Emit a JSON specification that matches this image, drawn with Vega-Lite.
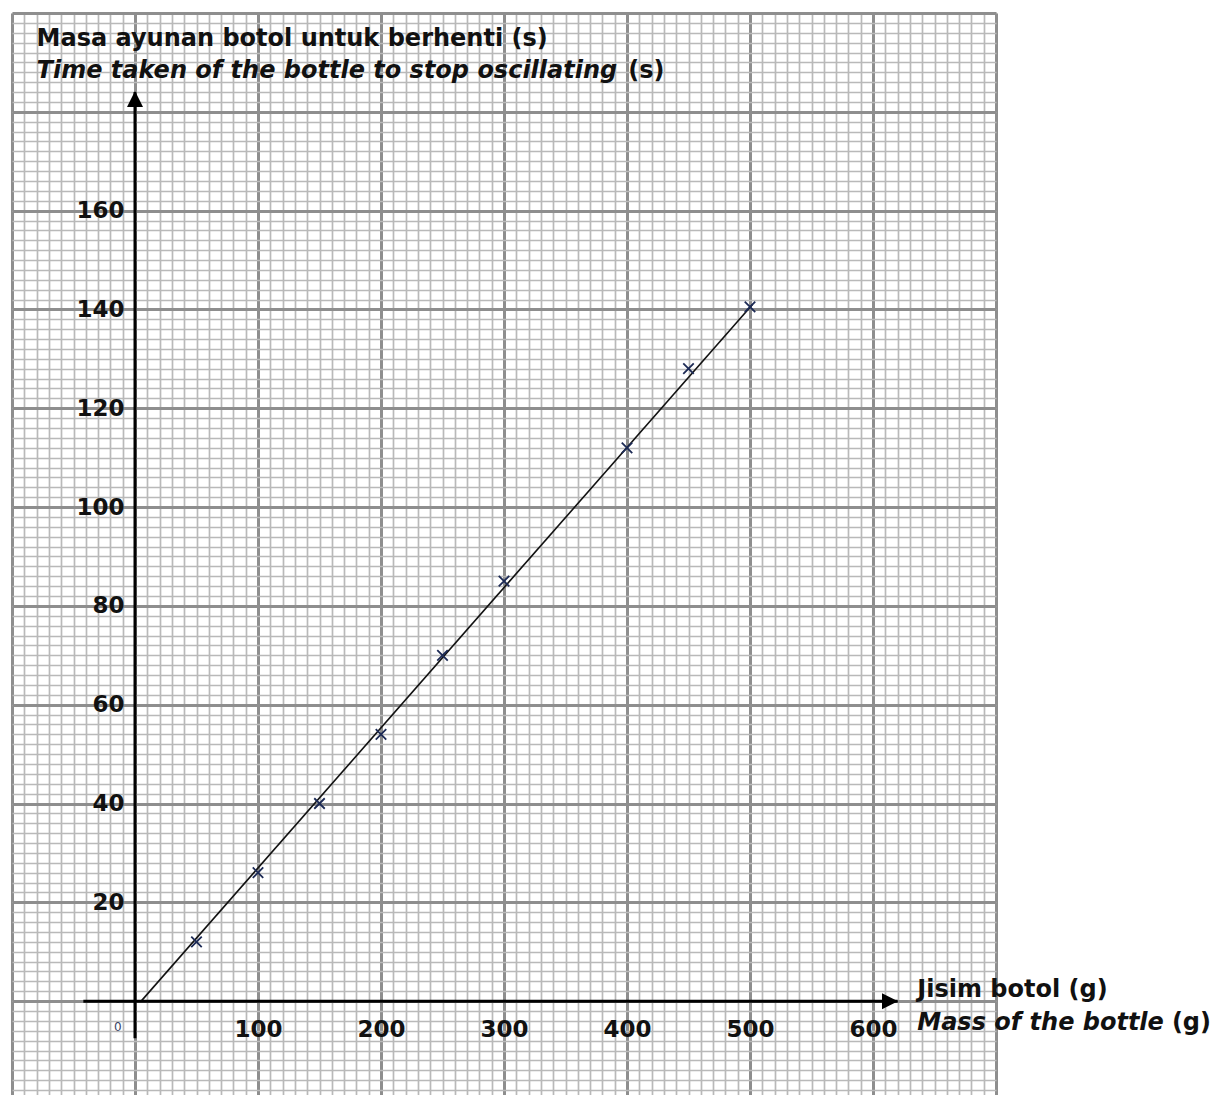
{
  "$schema": "https://vega.github.io/schema/vega-lite/v6.json",
  "width": 984,
  "height": 1082,
  "autosize": {"type": "none"},
  "padding": {"left": 12, "top": 13, "right": 223, "bottom": 0},
  "background": "white",
  "config": {"view": {"stroke": null}, "font": "DejaVu Sans"},
  "datasets": {
    "obs": [
      {"mass": 50, "time": 12},
      {"mass": 100, "time": 26},
      {"mass": 150, "time": 40},
      {"mass": 200, "time": 54},
      {"mass": 250, "time": 70},
      {"mass": 300, "time": 85},
      {"mass": 400, "time": 112},
      {"mass": 450, "time": 128},
      {"mass": 500, "time": 140.5}
    ],
    "fit": [
      {"mass": 5, "time": 0},
      {"mass": 502, "time": 141}
    ],
    "one": [{}]
  },
  "resolve": {"axis": {"x": "independent", "y": "independent"}},
  "layer": [
    {
      "data": {"name": "fit"},
      "mark": {"type": "line", "color": "#111111", "strokeWidth": 1.6},
      "encoding": {
        "x": {"field": "mass", "type": "quantitative",
          "scale": {"domain": [-100, 700], "nice": false, "zero": false},
          "axis": {"orient": "bottom", "title": null, "labels": false, "ticks": false, "domain": false,
            "grid": true, "gridColor": "#b9b9b9", "gridWidth": 1.7, "gridOpacity": 1,
            "values": [-100,-90,-80,-70,-60,-50,-40,-30,-20,-10,0,10,20,30,40,50,60,70,80,90,100,110,120,130,140,150,160,170,180,190,200,210,220,230,240,250,260,270,280,290,300,310,320,330,340,350,360,370,380,390,400,410,420,430,440,450,460,470,480,490,500,510,520,530,540,550,560,570,580,590,600,610,620,630,640,650,660,670,680,690,700]}},
        "y": {"field": "time", "type": "quantitative",
          "scale": {"domain": [-19, 200], "nice": false, "zero": false},
          "axis": {"orient": "left", "title": null, "labels": false, "ticks": false, "domain": false,
            "grid": true, "gridColor": "#b9b9b9", "gridWidth": 1.7, "gridOpacity": 1,
            "values": [-18,-16,-14,-12,-10,-8,-6,-4,-2,0,2,4,6,8,10,12,14,16,18,20,22,24,26,28,30,32,34,36,38,40,42,44,46,48,50,52,54,56,58,60,62,64,66,68,70,72,74,76,78,80,82,84,86,88,90,92,94,96,98,100,102,104,106,108,110,112,114,116,118,120,122,124,126,128,130,132,134,136,138,140,142,144,146,148,150,152,154,156,158,160,162,164,166,168,170,172,174,176,178,180,182,184,186,188,190,192,194,196,198,200]}}
      }
    },
    {
      "data": {"name": "obs"},
      "mark": {"type": "point", "shape": "M-1,-1L1,1M1,-1L-1,1", "filled": false, "stroke": "#1c2a55", "strokeWidth": 1.8, "size": 110, "opacity": 1},
      "encoding": {
        "x": {"field": "mass", "type": "quantitative",
          "scale": {"domain": [-100, 700], "nice": false, "zero": false},
          "axis": {"orient": "bottom", "title": null, "labels": false, "ticks": false, "domain": false,
            "grid": true, "gridColor": "#8e8e8e", "gridWidth": 3, "gridOpacity": 1,
            "values": [-100, 0, 100, 200, 300, 400, 500, 600, 700]}},
        "y": {"field": "time", "type": "quantitative",
          "scale": {"domain": [-19, 200], "nice": false, "zero": false},
          "axis": {"orient": "left", "title": null, "labels": false, "ticks": false, "domain": false,
            "grid": true, "gridColor": "#8e8e8e", "gridWidth": 3, "gridOpacity": 1,
            "values": [0, 20, 40, 60, 80, 100, 120, 140, 160, 180, 200]}}
      }
    },
    {
      "data": {"name": "one"},
      "mark": {"type": "rule", "color": "black", "strokeWidth": 3},
      "encoding": {
        "x": {"datum": -42, "type": "quantitative",
          "scale": {"domain": [-100, 700], "nice": false, "zero": false},
          "axis": {"orient": "bottom", "offset": -94, "title": null, "ticks": false, "domain": false, "grid": false,
            "labelPadding": 17, "labelFontSize": 23, "labelFontWeight": "bold", "labelFont": "DejaVu Sans",
            "labelColor": "#111111", "labelOverlap": false, "labelFlush": false,
            "values": [100, 200, 300, 400, 500, 600]}},
        "x2": {"datum": 620},
        "y": {"datum": 0, "type": "quantitative",
          "scale": {"domain": [-19, 200], "nice": false, "zero": false},
          "axis": {"orient": "left", "offset": -123, "title": null, "ticks": false, "domain": false, "grid": false,
            "labelPadding": 11, "labelFontSize": 23, "labelFontWeight": "bold", "labelFont": "DejaVu Sans",
            "labelColor": "#111111", "labelOverlap": false, "labelFlush": false,
            "values": [20, 40, 60, 80, 100, 120, 140, 160]}}
      }
    },
    {
      "data": {"name": "one"},
      "mark": {"type": "rule", "color": "black", "strokeWidth": 3},
      "encoding": {
        "x": {"datum": 0, "type": "quantitative", "axis": null},
        "y": {"datum": -7.5, "type": "quantitative", "axis": null},
        "y2": {"datum": 184}
      }
    },
    {
      "data": {"name": "one"},
      "mark": {"type": "point", "shape": "M0,0L-0.8,1.6L0.8,1.6Z", "filled": true, "color": "black", "size": 400, "opacity": 1, "strokeWidth": 0},
      "encoding": {
        "x": {"datum": 0, "type": "quantitative", "axis": null},
        "y": {"datum": 184.2, "type": "quantitative", "axis": null}
      }
    },
    {
      "data": {"name": "one"},
      "mark": {"type": "point", "shape": "M0,0L-1.6,-0.8L-1.6,0.8Z", "filled": true, "color": "black", "size": 400, "opacity": 1, "strokeWidth": 0},
      "encoding": {
        "x": {"datum": 620.3, "type": "quantitative", "axis": null},
        "y": {"datum": 0, "type": "quantitative", "axis": null}
      }
    },
    {
      "data": {"name": "one"},
      "mark": {"type": "text", "text": "Masa ayunan botol untuk berhenti (s)", "align": "left", "baseline": "alphabetic",
        "font": "DejaVu Sans", "fontSize": 24, "fontWeight": "bold", "color": "#111111"},
      "encoding": {
        "x": {"datum": -80, "type": "quantitative", "axis": null},
        "y": {"datum": 193.3, "type": "quantitative", "axis": null}
      }
    },
    {
      "data": {"name": "one"},
      "mark": {"type": "text", "text": "Time taken of the bottle to stop oscillating", "align": "left", "baseline": "alphabetic",
        "font": "DejaVu Sans", "fontSize": 24, "fontWeight": "bold", "fontStyle": "italic", "color": "#111111"},
      "encoding": {
        "x": {"datum": -80, "type": "quantitative", "axis": null},
        "y": {"datum": 186.8, "type": "quantitative", "axis": null}
      }
    },
    {
      "data": {"name": "one"},
      "mark": {"type": "text", "text": "(s)", "align": "left", "baseline": "alphabetic",
        "font": "DejaVu Sans", "fontSize": 24, "fontWeight": "bold", "color": "#111111"},
      "encoding": {
        "x": {"datum": 401, "type": "quantitative", "axis": null},
        "y": {"datum": 186.8, "type": "quantitative", "axis": null}
      }
    },
    {
      "data": {"name": "one"},
      "mark": {"type": "text", "text": "Jisim botol (g)", "align": "left", "baseline": "alphabetic",
        "font": "DejaVu Sans", "fontSize": 24, "fontWeight": "bold", "color": "#111111"},
      "encoding": {
        "x": {"datum": 636, "type": "quantitative", "axis": null},
        "y": {"datum": 0.8, "type": "quantitative", "axis": null}
      }
    },
    {
      "data": {"name": "one"},
      "mark": {"type": "text", "text": "Mass of the bottle", "align": "left", "baseline": "alphabetic",
        "font": "DejaVu Sans", "fontSize": 24, "fontWeight": "bold", "fontStyle": "italic", "color": "#111111"},
      "encoding": {
        "x": {"datum": 636, "type": "quantitative", "axis": null},
        "y": {"datum": -5.85, "type": "quantitative", "axis": null}
      }
    },
    {
      "data": {"name": "one"},
      "mark": {"type": "text", "text": "(g)", "align": "left", "baseline": "alphabetic",
        "font": "DejaVu Sans", "fontSize": 24, "fontWeight": "bold", "color": "#111111"},
      "encoding": {
        "x": {"datum": 843, "type": "quantitative", "axis": null},
        "y": {"datum": -5.85, "type": "quantitative", "axis": null}
      }
    },
    {
      "data": {"name": "one"},
      "mark": {"type": "text", "text": "0", "align": "center", "baseline": "middle",
        "font": "DejaVu Sans", "fontSize": 12, "color": "#3a4466"},
      "encoding": {
        "x": {"datum": -14, "type": "quantitative", "axis": null},
        "y": {"datum": -5.2, "type": "quantitative", "axis": null}
      }
    }
  ]
}
